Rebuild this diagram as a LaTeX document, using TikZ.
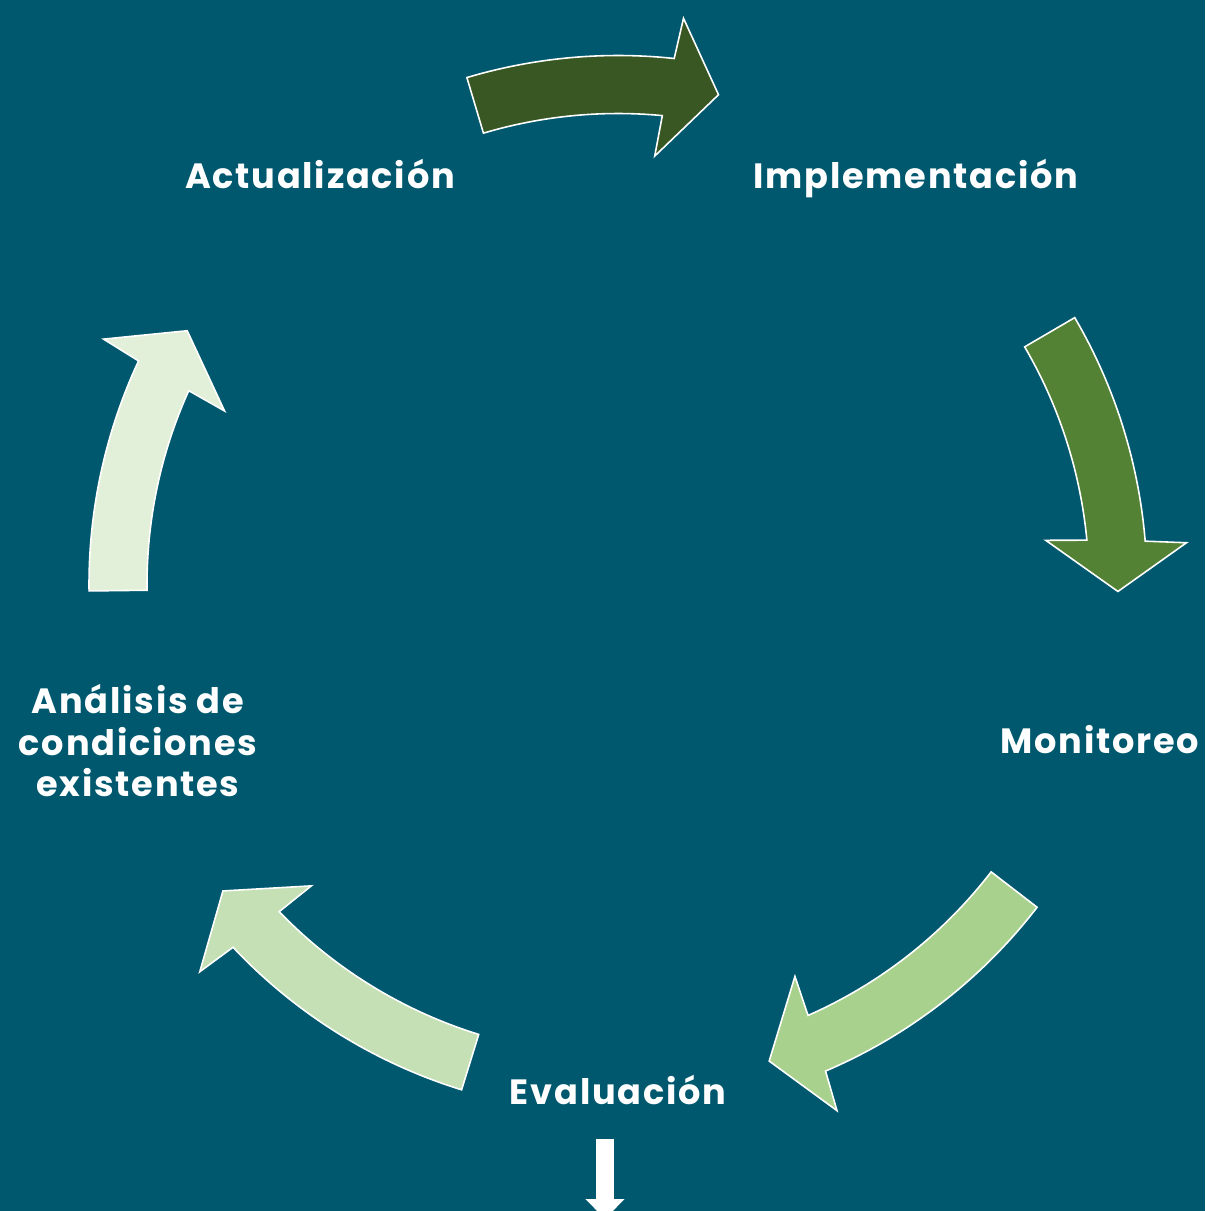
\documentclass[tikz,border=0pt]{standalone}
\usepackage{fontspec}
\setmainfont{Poppins}[LetterSpace=5]
\usepackage{tikz}
\usetikzlibrary{arrows.meta}
\definecolor{BgTeal}{RGB}{0,88,110}
\definecolor{DarkGreen}{RGB}{56,87,35}
\definecolor{MidGreen}{RGB}{84,130,53}
\definecolor{SoftGreen}{RGB}{169,209,142}
\definecolor{PaleGreen}{RGB}{197,224,180}
\definecolor{MistGreen}{RGB}{226,240,217}

\tikzset{
  stage/.style={text=white, font=\bfseries\fontsize{20}{23.6}\selectfont, align=center, inner sep=0pt},
  bandarrow/.style={draw=white, line width=0.9pt, line join=miter},
  downarrow/.style={white, line width=0.36cm, -{Triangle[width=0.76cm,length=0.4cm]}}
}

% curved band arrow round the centre: colour, tail angle, tip angle
\newcommand{\cyclearrow}[3]{%
  \filldraw[bandarrow, fill=#1] (#2:471) arc[start angle=#2, end angle={#3+6.2}, radius=471]
    -- ({#3+6.7}:430) -- (#3:500) -- ({#3+5.0}:570) -- ({#3+5.5}:529)
    arc[start angle={#3+5.5}, end angle=#2, radius=529] -- cycle;}

\begin{document}
\begin{tikzpicture}[x=0.02cm, y=0.02cm]
    \fill[BgTeal] (0,0) rectangle (1205,1211);
    \useasboundingbox (0,0) rectangle (1205,1211);

    \node[stage, anchor=base] (update) at (320,1022) {Actualización};
    \node[stage, anchor=base] (implement) at (916,1022) {Implementación};
    \node[stage, anchor=base] (monitor) at (1100,457) {Monitoreo};
    \node[stage, anchor=base] (evaluate) at (618,106) {Evaluación};
    \node[stage] (analysis) at (138,470) {Análisis de\\condiciones\\existentes};

    \begin{scope}[shift={(618,626.5)}]
        \cyclearrow{DarkGreen}{106.6}{78.4}
        \cyclearrow{MidGreen}{30.3}{-0.8}
        \cyclearrow{SoftGreen}{-37.6}{-72.4}
        \cyclearrow{PaleGreen}{-107.2}{-142.2}
        \cyclearrow{MistGreen}{180.7}{149.5}
    \end{scope}

    \coordinate (outtop) at (605,72);
    \coordinate (outend) at (605,-8);
    \draw[downarrow] (outtop) -- (outend);
\end{tikzpicture}
\end{document}
